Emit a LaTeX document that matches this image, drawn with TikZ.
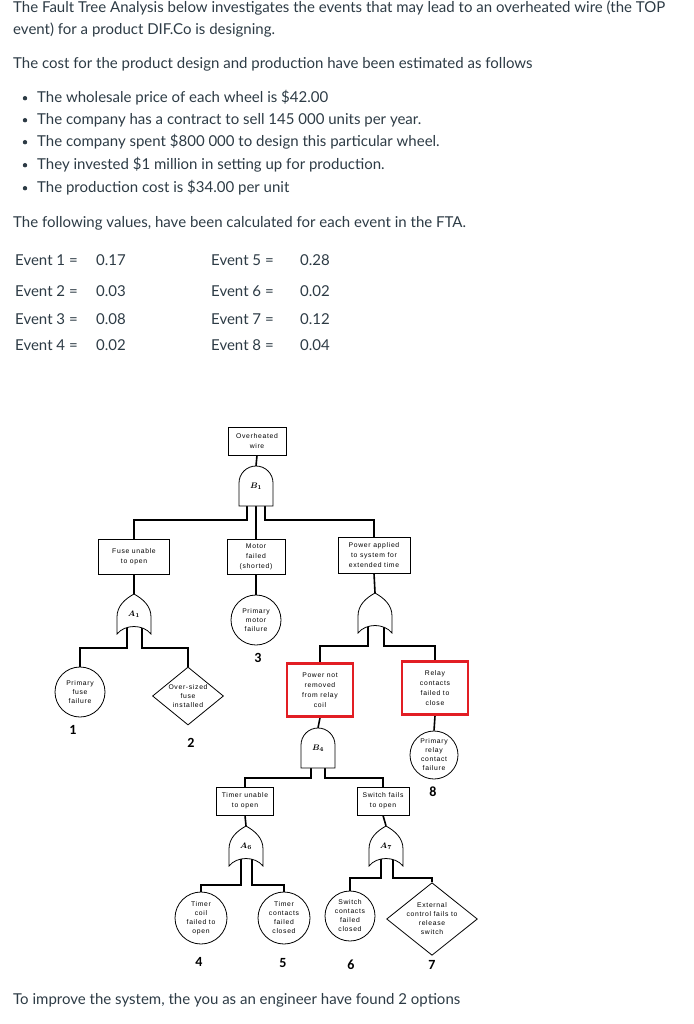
\documentclass[tikz,border=0pt]{standalone}
\usepackage{fontspec}
\setmainfont{Lato}
\newfontfamily\ftafont[LetterSpace=10]{Liberation Sans}
\newfontfamily\numfont{Carlito}
\usetikzlibrary{shapes.geometric, backgrounds}
\definecolor{CanvasInk}{HTML}{2D3B45}
\definecolor{MarkRed}{RGB}{226, 30, 36}

\tikzset{
  gateline/.style={line width=0.8pt, fill=white},
  andgate/.pic={\draw[gateline] (-17,-20) -- (-17,3) arc[start angle=180, end angle=0, radius=17pt] -- (17,-20) -- cycle;},
  orgate/.pic={\draw[gateline] (-17,-20) -- (-17,-3) .. controls (-17,8) and (-9,15) .. (0,20) .. controls (9,15) and (17,8) .. (17,-3) -- (17,-20) .. controls (9,-10) and (-9,-10) .. cycle;}
}

\begin{document}
\begin{tikzpicture}[x=1pt, y=1pt,
    txt/.style={anchor=base west, inner sep=0pt, text=CanvasInk, font=\fontsize{15}{17}\selectfont},
    evbox/.style={draw, line width=0.8pt, fill=white, inner sep=1pt, align=center, font=\ftafont\fontsize{6.8}{10}\selectfont},
    redbox/.style={evbox, draw=MarkRed, line width=2.6pt, minimum width=66pt, minimum height=53pt},
    basic/.style={circle, draw, line width=0.8pt, fill=white, inner sep=0pt, minimum size=50pt, align=center, font=\ftafont\fontsize{6.8}{9}\selectfont},
    undev/.style={diamond, draw, line width=0.8pt, fill=white, inner sep=0pt, aspect=1.25, align=center, font=\ftafont\fontsize{6.8}{9}\selectfont},
    gatelbl/.style={minimum width=34pt, minimum height=40pt, inner sep=0pt, font=\boldmath\fontsize{8}{9}\selectfont},
    evnum/.style={inner sep=0pt, font=\numfont\bfseries\fontsize{14}{16}\selectfont},
    wire/.style={line width=1.6pt}
  ]
  \useasboundingbox (0,0) rectangle (693,-1024);

  % Question text
  \node[txt] (intro1) at (13,-13) {The Fault Tree Analysis below investigates the events that may lead to an overheated wire (the TOP};
  \node[txt] (intro2) at (13,-35) {event) for a product DIF.Co is designing.};
  \node[txt] (cost) at (13,-69) {The cost for the product design and production have been estimated as follows};
  \node[txt] (bul1) at (37,-103) {The wholesale price of each wheel is \$42.00};
  \node[txt] (bul2) at (37,-125) {The company has a contract to sell 145 000 units per year.};
  \node[txt] (bul3) at (37,-147) {The company spent \$800 000 to design this particular wheel.};
  \node[txt] (bul4) at (37,-170) {They invested \$1 million in setting up for production.};
  \node[txt] (bul5) at (37,-193) {The production cost is \$34.00 per unit};
  \foreach \b in {bul1,bul2,bul3,bul4,bul5}
    \fill[CanvasInk] ([xshift=-12pt,yshift=4.8pt]\b.base west) circle (2.2pt);
  \node[txt] (values) at (13,-228) {The following values, have been calculated for each event in the FTA.};

  % Event values
  \node[txt] (ev1) at (15,-265) {Event 1 =};
  \node[txt] (ev2) at (15,-296) {Event 2 =};
  \node[txt] (ev3) at (15,-324) {Event 3 =};
  \node[txt] (ev4) at (15,-350) {Event 4 =};
  \node[txt] (p1) at (96,-265) {0.17};
  \node[txt] (p2) at (96,-296) {0.03};
  \node[txt] (p3) at (96,-324) {0.08};
  \node[txt] (p4) at (96,-350) {0.02};
  \node[txt] (ev5) at (211,-265) {Event 5 =};
  \node[txt] (ev6) at (211,-296) {Event 6 =};
  \node[txt] (ev7) at (211,-324) {Event 7 =};
  \node[txt] (ev8) at (211,-350) {Event 8 =};
  \node[txt] (p5) at (300,-265) {0.28};
  \node[txt] (p6) at (300,-296) {0.02};
  \node[txt] (p7) at (300,-324) {0.12};
  \node[txt] (p8) at (300,-350) {0.04};

  % Fault tree - events
  \node[evbox, minimum width=58pt, minimum height=28pt] (top) at (257,-441) {Overheated\\wire};
  \node[evbox, minimum width=71pt, minimum height=35pt] (fuse) at (134,-557) {Fuse unable\\to open};
  \node[evbox, minimum width=58pt, minimum height=35pt] (motor) at (256,-557) {Motor\\failed\\(shorted)};
  \node[evbox, minimum width=72pt, minimum height=36pt] (power) at (374,-555) {Power applied\\to system for\\extended time};
  \node[basic] (pmotor) at (256,-620) {Primary\\motor\\failure};
  \node[basic] (pfuse) at (80,-692) {Primary\\fuse\\failure};
  \node[undev, minimum width=71pt, minimum height=58pt] (oversize) at (188,-696) {Over-sized\\fuse\\installed};
  \node[redbox] (notrem) at (320,-690) {Power not\\removed\\from relay\\coil};
  \node[redbox] (relay) at (435,-688) {Relay\\contacts\\failed to\\close};
  \node[basic, minimum size=48pt] (prelay) at (434,-755) {Primary\\relay\\contact\\failure};
  \node[evbox, minimum width=57pt, minimum height=28pt] (timer) at (245,-801) {Timer unable\\to open};
  \node[evbox, minimum width=52pt, minimum height=28pt] (switch) at (383,-801) {Switch fails\\to open};
  \node[basic, minimum size=52pt] (tcoil) at (201,-918) {Timer\\coil\\failed to\\open};
  \node[basic, minimum size=52pt] (tcont) at (284,-918) {Timer\\contacts\\failed\\closed};
  \node[basic] (scont) at (350,-916) {Switch\\contacts\\failed\\closed};
  \node[undev, minimum width=77pt, minimum height=65pt] (ext) at (432,-919) {External\\control fails to\\release\\switch};

  % Gates
  \pic at (256,-486) {andgate};
  \node[gatelbl] (b1) at (256,-486) {$B_1$};
  \pic at (134,-614) {orgate};
  \node[gatelbl] (a1) at (134,-614) {$A_1$};
  \pic at (375,-613) {orgate};
  \node[gatelbl] (pwrgate) at (375,-613) {};
  \pic at (318,-748) {andgate};
  \node[gatelbl] (b4) at (318,-748) {$B_4$};
  \pic at (246,-846) {orgate};
  \node[gatelbl] (a6) at (246,-846) {$A_6$};
  \pic at (386,-846) {orgate};
  \node[gatelbl] (a7) at (386,-846) {$A_7$};

  % Event numbers
  \node[evnum] (n1) at (73,-730) {1};
  \node[evnum] (n2) at (191,-743) {2};
  \node[evnum] (n3) at (258,-658) {3};
  \node[evnum] (n4) at (199,-962) {4};
  \node[evnum] (n5) at (283,-963) {5};
  \node[evnum] (n6) at (351,-965) {6};
  \node[evnum] (n7) at (432,-965) {7};
  \node[evnum] (n8) at (433,-792) {8};

  % Connectors
  \begin{scope}[on background layer]
    \draw[wire] (top.south) -- (b1.north);
    \draw[wire] ([xshift=-9pt]b1.south) -- ++(0,-14) -| (fuse.north);
    \draw[wire] (b1.south) -- (motor.north);
    \draw[wire] ([xshift=9pt]b1.south) -- ++(0,-14) -| (power.north);
    \draw[wire] (fuse.south) -- (a1.north);
    \draw[wire] (motor.south) -- (pmotor.north);
    \draw[wire] (power.south) -- (pwrgate.north);
    \draw[wire] ([xshift=-7pt]a1.center) -- ++(0,-34) -| (pfuse.north);
    \draw[wire] ([xshift=8pt]a1.center) -- ++(0,-34) -| (oversize.north);
    \draw[wire] ([xshift=-7pt]pwrgate.center) -- ++(0,-33) -| (notrem.north);
    \draw[wire] ([xshift=9pt]pwrgate.center) -- ++(0,-33) -| (relay.north);
    \draw[wire] (notrem.south) -- (b4.north);
    \draw[wire] (relay.south) -- (prelay.north);
    \draw[wire] ([xshift=-7pt]b4.south) -- ++(0,-10) -| (timer.north);
    \draw[wire] ([xshift=7pt]b4.south) -- ++(0,-10) -| (switch.north);
    \draw[wire] (timer.south) -- (a6.north);
    \draw[wire] (switch.south) -- (a7.north);
    \draw[wire] ([xshift=-5pt]a6.center) -- ++(0,-39) -| (tcoil.north);
    \draw[wire] ([xshift=6pt]a6.center) -- ++(0,-39) -| (tcont.north);
    \draw[wire] ([xshift=-5pt]a7.center) -- ++(0,-32) -| (scont.north);
    \draw[wire] ([xshift=7pt]a7.center) -- ++(0,-32) -| (ext.north);
  \end{scope}

  \node[txt] (options) at (13,-1004) {To improve the system, the you as an engineer have found 2 options};
\end{tikzpicture}
\end{document}
